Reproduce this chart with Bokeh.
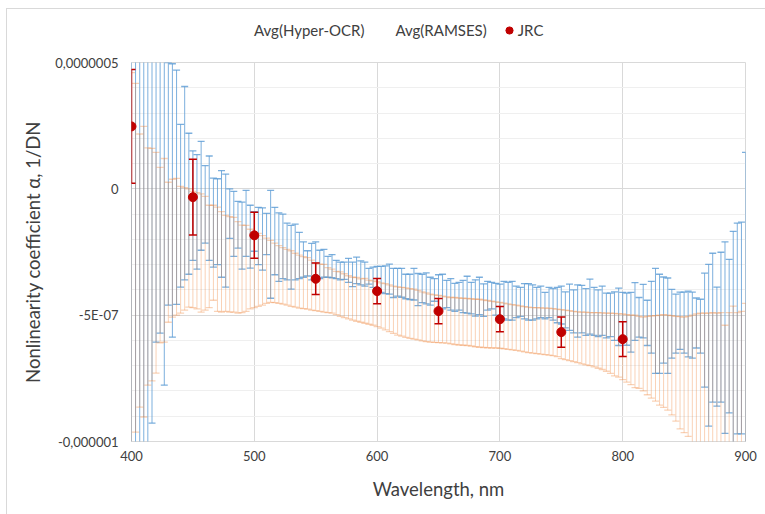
import numpy as np
from bokeh.plotting import figure
from bokeh.layouts import column
from bokeh.models import (Range1d, FixedTicker, CustomJSTickFormatter, Legend, LegendItem,
                          ColumnDataSource)
from bokeh.embed import file_html
from bokeh.resources import INLINE

# ---------------- data (values in units of 1e-7 1/DN) ----------------
UNIT = 1e-7

wavelength = [
    400.0, 403.3, 406.7, 410.0, 413.3, 416.7, 420.0, 423.3, 426.7, 430.0, 433.3, 436.7, 440.0, 443.3, 446.7,
    450.0, 453.3, 456.7, 460.0, 463.3, 466.7, 470.0, 473.3, 476.7, 480.0, 483.3, 486.7, 490.0, 493.3, 496.7,
    500.0, 503.3, 506.7, 510.0, 513.3, 516.7, 520.0, 523.3, 526.7, 530.0, 533.3, 536.7, 540.0, 543.3, 546.7,
    550.0, 553.3, 556.7, 560.0, 563.3, 566.7, 570.0, 573.3, 576.7, 580.0, 583.3, 586.7, 590.0, 593.3, 596.7,
    600.0, 603.3, 606.7, 610.0, 613.3, 616.7, 620.0, 623.3, 626.7, 630.0, 633.3, 636.7, 640.0, 643.3, 646.7,
    650.0, 653.3, 656.7, 660.0, 663.3, 666.7, 670.0, 673.3, 676.7, 680.0, 683.3, 686.7, 690.0, 693.3, 696.7,
    700.0, 703.3, 706.7, 710.0, 713.3, 716.7, 720.0, 723.3, 726.7, 730.0, 733.3, 736.7, 740.0, 743.3, 746.7,
    750.0, 753.3, 756.7, 760.0, 763.3, 766.7, 770.0, 773.3, 776.7, 780.0, 783.3, 786.7, 790.0, 793.3, 796.7,
    800.0, 803.3, 806.7, 810.0, 813.3, 816.7, 820.0, 823.3, 826.7, 830.0, 833.3, 836.7, 840.0, 843.3, 846.7,
    850.0, 853.3, 856.7, 860.0, 863.3, 866.7, 870.0, 873.3, 876.7, 880.0, 883.3, 886.7, 890.0, 893.3, 896.7,
    900.0,
]

# Avg(Hyper-OCR): upper / lower ends of the error bars
hyper_hi = [
    9.0, 8.6, 8.2, 7.8, 7.5, 7.1, 6.7, 6.3, 5.8, 5.0, 4.95, 4.7, 2.55, 4.05, 2.2,
    1.5, 1.35, 1.88, 0.92, 1.3, 0.42, 0.4, 0.72, 0.58, 0.0, -0.1, -0.5, -0.53, -0.06, -0.65,
    -0.9, -0.73, -0.75, -0.97, -0.06, -0.73, -0.95, -1.0, -1.36, -1.45, -1.4, -1.72, -2.1, -2.45, -2.16,
    -2.1, -2.43, -2.4, -2.67, -2.6, -2.83, -2.9, -2.9, -2.75, -2.9, -2.7, -2.85, -2.9, -3.15, -3.1,
    -3.07, -3.07, -3.05, -2.98, -3.15, -3.15, -3.15, -3.38, -3.38, -3.15, -3.35, -3.38, -3.33, -3.5, -3.55,
    -3.4, -3.38, -3.62, -3.55, -3.74, -3.7, -3.62, -3.46, -3.7, -3.6, -3.5, -3.76, -3.66, -3.7, -3.74,
    -3.77, -3.66, -3.7, -3.66, -3.85, -3.9, -3.75, -3.75, -3.8, -3.9, -3.85, -4.1, -3.9, -3.95, -3.9,
    -3.85, -4.08, -3.77, -4.0, -3.8, -3.82, -3.95, -3.57, -3.9, -4.0, -3.85, -4.13, -4.13, -4.08, -3.93,
    -4.1, -4.13, -4.1, -3.71, -4.3, -3.78, -4.41, -3.66, -3.15, -3.38, -3.49, -3.53, -3.98, -4.17, -4.09,
    -4.09, -4.05, -4.09, -4.32, -4.37, -3.34, -2.99, -2.55, -3.89, -2.51, -2.1, -2.79, -1.68, -1.36, -1.32,
    1.44,
]
hyper_lo = [
    -12.0, -11.5, -11.2, -10.8, -10.6, -9.27, -6.07, -5.71, -7.77, -4.6, -5.87, -4.57, -3.89, -3.6, -3.38,
    -2.83, -3.18, -2.43, -2.15, -2.83, -3.1, -3.0, -3.5, -3.89, -1.96, -2.67, -2.35, -3.18, -2.67, -3.14,
    -2.47, -3.0, -3.22, -2.6, -4.33, -3.4, -3.66, -3.55, -3.6, -3.97, -3.6, -3.55, -3.5, -3.45, -3.6,
    -3.58, -3.55, -3.5, -3.5, -3.52, -3.55, -3.6, -3.58, -3.7, -3.87, -3.75, -3.8, -3.85, -3.77, -3.9,
    -4.0, -4.1, -4.15, -4.17, -4.3, -4.25, -4.29, -4.35, -4.38, -4.4, -4.62, -4.5, -4.55, -4.6, -4.45,
    -4.92, -4.75, -4.7, -4.8, -4.85, -4.8, -4.9, -4.92, -4.95, -5.04, -4.98, -5.05, -4.8, -4.75, -5.0,
    -5.2, -5.15, -5.2, -5.2, -5.1, -5.05, -5.15, -5.2, -5.2, -5.15, -5.1, -5.15, -5.1, -5.2, -5.3,
    -5.35, -5.5, -5.6, -5.7, -5.87, -5.7, -5.8, -5.75, -5.8, -5.85, -5.8, -5.9, -5.85, -6.0, -6.2,
    -6.0, -6.19, -6.46, -6.0, -5.87, -5.9, -6.2, -6.5, -7.3, -7.3, -6.9, -7.3, -6.7, -6.5, -6.35,
    -6.5, -6.65, -6.7, -6.3, -6.5, -7.85, -9.39, -8.44, -8.6, -8.44, -9.68, -8.87, -10.5, -9.7, -9.7,
    -10.8,
]

# Avg(RAMSES): upper / lower ends of the error bars
ramses_hi = [
    4.6, 4.17, 2.17, 2.47, 1.62, 1.6, 1.44, 0.85, 1.2, 0.26, 0.38, 0.41, 0.1, 0.05, 0.0,
    -0.1, -0.15, -0.2, -0.3, -0.65, -0.65, -0.72, -0.9, -1.05, -1.1, -1.13, -1.3, -1.44, -1.45, -1.6,
    -1.72, -1.76, -1.85, -1.95, -2.04, -2.15, -2.25, -2.33, -2.4, -2.45, -2.55, -2.62, -2.68, -2.72, -2.82,
    -2.92, -2.98, -2.99, -3.12, -3.18, -3.27, -3.29, -3.36, -3.44, -3.5, -3.51, -3.56, -3.54, -3.61, -3.64,
    -3.67, -3.72, -3.75, -3.8, -3.85, -3.88, -3.9, -3.92, -3.95, -3.97, -4.02, -4.08, -4.12, -4.17, -4.2,
    -4.22, -4.25, -4.28, -4.3, -4.3, -4.32, -4.33, -4.34, -4.35, -4.37, -4.37, -4.4, -4.42, -4.45, -4.47,
    -4.49, -4.52, -4.55, -4.58, -4.6, -4.63, -4.66, -4.68, -4.7, -4.7, -4.71, -4.72, -4.72, -4.74, -4.76,
    -4.78, -4.8, -4.82, -4.85, -4.87, -4.88, -4.88, -4.9, -4.9, -4.9, -4.91, -4.92, -4.92, -4.93, -4.95,
    -4.95, -4.98, -5.0, -5.0, -5.05, -5.08, -5.05, -5.03, -5.02, -5.0, -4.98, -5.0, -5.02, -5.05, -5.06,
    -5.08, -5.05, -5.0, -4.95, -4.92, -4.92, -4.92, -4.9, -4.92, -4.9, -5.4, -4.9, -4.64, -4.9, -4.85,
    -4.53,
]
ramses_lo = [
    -11.0, -9.63, -8.64, -9.03, -7.77, -7.6, -7.29, -6.1, -6.07, -5.28, -5.08, -5.0, -4.92, -4.8, -4.68,
    -4.7, -4.75, -4.88, -4.8, -4.7, -4.41, -4.85, -4.88, -4.85, -4.88, -4.88, -4.92, -4.9, -4.85, -4.75,
    -4.7, -4.65, -4.6, -4.53, -4.49, -4.5, -4.53, -4.56, -4.6, -4.65, -4.68, -4.72, -4.74, -4.76, -4.8,
    -4.82, -4.85, -4.88, -4.9, -4.92, -4.98, -5.05, -5.1, -5.15, -5.2, -5.24, -5.28, -5.32, -5.36, -5.4,
    -5.45, -5.51, -5.58, -5.65, -5.72, -5.79, -5.83, -5.88, -5.92, -5.95, -5.98, -6.02, -6.05, -6.07, -6.08,
    -6.09, -6.1, -6.11, -6.14, -6.16, -6.18, -6.19, -6.2, -6.22, -6.25, -6.27, -6.28, -6.29, -6.3, -6.3,
    -6.31, -6.33, -6.35, -6.37, -6.39, -6.42, -6.45, -6.48, -6.5, -6.52, -6.54, -6.56, -6.58, -6.6, -6.64,
    -6.72, -6.76, -6.8, -6.84, -6.88, -6.93, -6.97, -7.0, -7.05, -7.1, -7.15, -7.22, -7.3, -7.4, -7.45,
    -7.55, -7.65, -7.75, -7.87, -7.9, -8.0, -8.15, -8.28, -8.4, -8.56, -8.65, -8.76, -8.95, -9.19, -9.5,
    -9.65, -9.8, -10.2, -10.4, -10.6, -10.8, -11.0, -11.2, -11.4, -11.6, -11.8, -12.0, -12.2, -12.4, -12.6,
    -12.8,
]

# JRC points with error bars
jrc_wavelength = [400, 450, 500, 550, 600, 650, 700, 750, 800]
jrc_mean = [2.47, -0.33, -1.84, -3.56, -4.05, -4.84, -5.16, -5.67, -5.95]
jrc_err = [2.25, 1.5, 0.91, 0.62, 0.5, 0.5, 0.5, 0.6, 0.69]

x_ticks = [400, 500, 600, 700, 800, 900]
y_tick_values = [-1e-6, -5e-7, 0.0, 5e-7]
y_tick_labels = ["-0,000001", "-5E-07", "0", "0,0000005"]
y_minor_values = [-9e-7, -8e-7, -7e-7, -6e-7, -4e-7, -3e-7, -2e-7, -1e-7,
                  1e-7, 2e-7, 3e-7, 4e-7]

series_names = ["Avg(Hyper-OCR)", "Avg(RAMSES)", "JRC"]

# ---------------- styles ----------------
BLUE = "#5B9BD5"
ORANGE = "#ED7D31"
RED = "#C00000"
TEXT = "#404040"
FONT = "Lato"
W = 758

# ---------------- main plot ----------------
p = figure(width=W, height=462, output_backend="svg", toolbar_location=None,
           x_range=Range1d(400, 900), y_range=Range1d(-1e-6, 5e-7),
           min_border_left=124, min_border_right=20, min_border_top=10, min_border_bottom=73)

p.background_fill_color = "white"
p.border_fill_color = "white"
p.outline_line_color = "#D9D9D9"
p.outline_line_width = 1

p.xaxis.ticker = FixedTicker(ticks=x_ticks)
p.yaxis.ticker = FixedTicker(ticks=y_tick_values, minor_ticks=y_minor_values)
p.yaxis.formatter = CustomJSTickFormatter(args=dict(vals=y_tick_values, labs=y_tick_labels), code="""
for (let i = 0; i < vals.length; i++) {
  if (Math.abs(tick - vals[i]) < 1e-12) { return labs[i]; }
}
return "";
""")
for ax in (p.xaxis, p.yaxis):
    ax.axis_line_color = None
    ax.major_tick_line_color = None
    ax.minor_tick_line_color = None
    ax.major_tick_in = 0
    ax.major_tick_out = 0
    ax.minor_tick_in = 0
    ax.minor_tick_out = 0
    ax.major_label_text_font = FONT
    ax.major_label_text_font_size = "13px"
    ax.major_label_text_color = TEXT
    ax.axis_label_text_font = FONT
    ax.axis_label_text_font_size = "18.5px"
    ax.axis_label_text_font_style = "normal"
    ax.axis_label_text_color = TEXT

p.xaxis.axis_label = "Wavelength, nm"
p.yaxis.axis_label = "Nonlinearity coefficient \u03b1, 1/DN"
p.xaxis.major_label_standoff = 9
p.yaxis.major_label_standoff = 13
p.xaxis.axis_label_standoff = 14
p.yaxis.axis_label_standoff = 8

p.xgrid.grid_line_color = "#D9D9D9"
p.xgrid.grid_line_width = 1
p.ygrid.grid_line_color = "#D9D9D9"
p.ygrid.grid_line_width = 1
p.ygrid.minor_grid_line_color = "#EFEFEF"
p.ygrid.minor_grid_line_width = 1

wl = np.array(wavelength)
src_h = ColumnDataSource(dict(x=wl, hi=np.array(hyper_hi) * UNIT, lo=np.array(hyper_lo) * UNIT))
src_r = ColumnDataSource(dict(x=wl, hi=np.array(ramses_hi) * UNIT, lo=np.array(ramses_lo) * UNIT))

def error_bars(src, color, alpha, cap):
    p.segment(x0="x", y0="lo", x1="x", y1="hi", source=src,
              line_color=color, line_alpha=alpha, line_width=1)
    p.scatter(x="x", y="hi", source=src, marker="dash", size=cap,
              line_color=color, line_alpha=alpha, line_width=1.3)
    p.scatter(x="x", y="lo", source=src, marker="dash", size=cap,
              line_color=color, line_alpha=alpha, line_width=1.3)

error_bars(src_h, BLUE, 0.8, 7)
error_bars(src_r, ORANGE, 0.35, 7)

jm = np.array(jrc_mean) * UNIT
je = np.array(jrc_err) * UNIT
src_j = ColumnDataSource(dict(x=jrc_wavelength, y=jm, hi=jm + je, lo=jm - je))
p.segment(x0="x", y0="lo", x1="x", y1="hi", source=src_j, line_color=RED, line_width=1.5)
p.scatter(x="x", y="hi", source=src_j, marker="dash", size=8, line_color=RED, line_width=1.5)
p.scatter(x="x", y="lo", source=src_j, marker="dash", size=8, line_color=RED, line_width=1.5)
p.scatter(x="x", y="y", source=src_j, marker="circle", size=9, fill_color=RED, line_color=RED)

# ---------------- legend strip above the plot ----------------
lg = figure(width=W, height=43, output_backend="svg", toolbar_location=None,
            x_range=Range1d(0, 1), y_range=Range1d(0, 1), x_axis_type=None, y_axis_type=None,
            min_border_left=0, min_border_right=0, min_border_top=0, min_border_bottom=0)
lg.outline_line_color = None
lg.background_fill_color = "white"
lg.border_fill_color = "white"
blank_h = lg.scatter(x=[5], y=[5], size=1, fill_alpha=0, line_alpha=0)
blank_r = lg.scatter(x=[5], y=[5], size=1, fill_alpha=0, line_alpha=0)
jrc_key = lg.scatter(x=[5], y=[5], marker="circle", size=9, fill_color=RED, line_color=RED)
legend = Legend(items=[LegendItem(label=series_names[0], renderers=[blank_h]),
                       LegendItem(label=series_names[1], renderers=[blank_r]),
                       LegendItem(label=series_names[2], renderers=[jrc_key])],
                orientation="horizontal", location=(105, 12), margin=0, padding=0,
                spacing=13, glyph_width=18, glyph_height=20, label_standoff=0,
                border_line_alpha=0, background_fill_alpha=0,
                label_text_font=FONT, label_text_font_size="15px", label_text_color=TEXT)
lg.add_layout(legend)

layout = column(lg, p, spacing=0,
                styles={"margin-left": "6px", "margin-top": "8px",
                        "border-left": "1px solid #D9D9D9", "border-top": "1px solid #D9D9D9"})

open("out.html", "w").write(file_html(layout, INLINE))
